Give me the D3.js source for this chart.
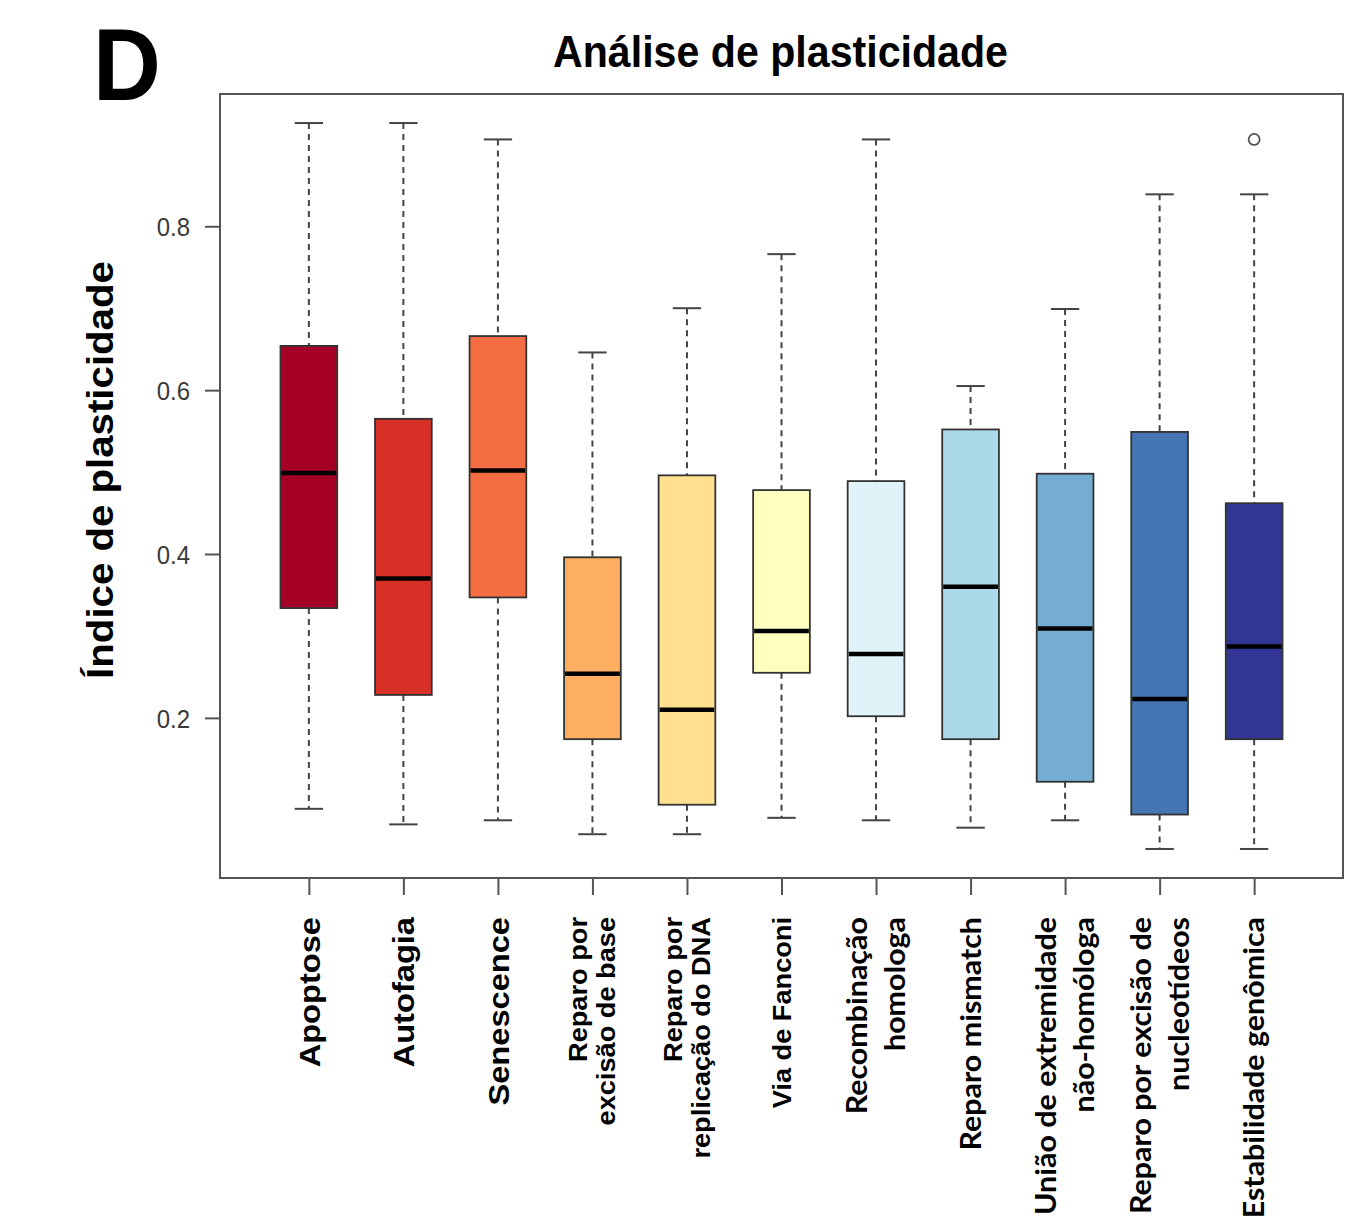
<!DOCTYPE html>
<html>
<head>
<meta charset="utf-8">
<script src="https://cdn.jsdelivr.net/npm/d3@7"></script>
<style>
  html, body { margin: 0; padding: 0; background: #fff; }
</style>
</head>
<body>
<svg id="chart" width="1353" height="1220"></svg>
<script>
// ---------------- DATA ----------------
const categories = [
  "Apoptose", "Autofagia", "Senescence",
  "Reparo por excisão de base", "Reparo por replicação do DNA", "Via de Fanconi",
  "Recombinação homologa", "Reparo mismatch", "União de extremidade não-homóloga",
  "Reparo por excisão de nucleotídeos", "Estabilidade genômica"
];
const labelLines = [
  ["Apoptose"], ["Autofagia"], ["Senescence"],
  ["Reparo por", "excisão de base"], ["Reparo por", "replicação do DNA"], ["Via de Fanconi"],
  ["Recombinação", "homologa"], ["Reparo mismatch"], ["União de extremidade", "não-homóloga"],
  ["Reparo por excisão de", "nucleotídeos"], ["Estabilidade genômica"]
];
const whiskerLow  = [0.089, 0.070, 0.075, 0.058, 0.058, 0.078, 0.075, 0.066, 0.075, 0.040, 0.040];
const q1          = [0.334, 0.228, 0.347, 0.174, 0.094, 0.255, 0.202, 0.174, 0.122, 0.082, 0.174];
const medians     = [0.499, 0.370, 0.502, 0.254, 0.210, 0.306, 0.278, 0.360, 0.309, 0.223, 0.287];
const q3          = [0.654, 0.565, 0.666, 0.396, 0.496, 0.478, 0.489, 0.552, 0.498, 0.549, 0.462];
const whiskerHigh = [0.926, 0.926, 0.906, 0.646, 0.700, 0.766, 0.906, 0.605, 0.699, 0.839, 0.839];
const outliers    = [[], [], [], [], [], [], [], [], [], [], [0.906]];
const colors = ["#A50026", "#D73027", "#F46D43", "#FDAE61", "#FEE090", "#FFFFBF",
                "#E0F3F8", "#ABD9E9", "#74ADD1", "#4575B4", "#313695"];
const yTicks = [0.2, 0.4, 0.6, 0.8];
const titleText = "Análise de plasticidade";
const yLabelText = "Índice de plasticidade";
const panelLetter = "D";

// ---------------- LAYOUT ----------------
const svg = d3.select("#chart");
const plot = { left: 220, right: 1343, top: 94, bottom: 878 };
const STRETCH = 1.087;
const n = categories.length;

// R-like 4% axis expansion
const dataMin = d3.min(whiskerLow), dataMax = d3.max(whiskerHigh.concat(outliers.flat()));
const yPad = (dataMax - dataMin) * 0.04;
const y = d3.scaleLinear().domain([dataMin - yPad, dataMax + yPad]).range([plot.bottom, plot.top]);
const xPad = n * 0.04;
const x = d3.scaleLinear().domain([0.5 - xPad, n + 0.5 + xPad]).range([plot.left, plot.right]);
const boxW = (x(1.6) - x(1));
const capW = boxW / 2;

const stats = categories.map((c, i) => ({
  name: c, i: i + 1, lo: whiskerLow[i], q1: q1[i], med: medians[i], q3: q3[i],
  hi: whiskerHigh[i], out: outliers[i], color: colors[i], lines: labelLines[i]
}));

// Frame
svg.append("rect")
  .attr("x", plot.left).attr("y", plot.top)
  .attr("width", plot.right - plot.left).attr("height", plot.bottom - plot.top)
  .attr("fill", "none").attr("stroke", "#555").attr("stroke-width", 2);

// Y axis
const yAxis = d3.axisLeft(y).tickValues(yTicks).tickSize(15).tickPadding(0).tickFormat(d3.format(".1f"));
const gy = svg.append("g").attr("transform", `translate(${plot.left},0)`).call(yAxis);
gy.select(".domain").remove();
gy.selectAll(".tick line").attr("stroke", "#555").attr("stroke-width", 2);
gy.selectAll(".tick text").remove();
gy.selectAll(".tick").append("text")
  .attr("transform", `translate(-30,0) scale(1,${STRETCH})`)
  .attr("text-anchor", "end").attr("dy", "0.36em")
  .attr("fill", "#3a3a3a")
  .style("font-family", "'Liberation Sans', Arial, sans-serif")
  .style("font-size", "24px")
  .text(d => d3.format(".1f")(d));

// X axis ticks
const xAxis = d3.axisBottom(x).tickValues(d3.range(1, n + 1)).tickSize(17).tickFormat("");
const gx = svg.append("g").attr("transform", `translate(0,${plot.bottom})`).call(xAxis);
gx.select(".domain").remove();
gx.selectAll(".tick line").attr("stroke", "#555").attr("stroke-width", 2);

// Boxes
const g = svg.append("g");
const bx = g.selectAll("g.box").data(stats).join("g").attr("class", "box");

// whiskers (dashed)
bx.append("line")
  .attr("x1", d => x(d.i)).attr("x2", d => x(d.i))
  .attr("y1", d => y(d.hi)).attr("y2", d => y(d.q3))
  .attr("stroke", "#444").attr("stroke-width", 2).attr("stroke-dasharray", "6,5");
bx.append("line")
  .attr("x1", d => x(d.i)).attr("x2", d => x(d.i))
  .attr("y1", d => y(d.q1)).attr("y2", d => y(d.lo))
  .attr("stroke", "#444").attr("stroke-width", 2).attr("stroke-dasharray", "6,5");
// caps
bx.append("line")
  .attr("x1", d => x(d.i) - capW / 2).attr("x2", d => x(d.i) + capW / 2)
  .attr("y1", d => y(d.hi)).attr("y2", d => y(d.hi))
  .attr("stroke", "#444").attr("stroke-width", 2);
bx.append("line")
  .attr("x1", d => x(d.i) - capW / 2).attr("x2", d => x(d.i) + capW / 2)
  .attr("y1", d => y(d.lo)).attr("y2", d => y(d.lo))
  .attr("stroke", "#444").attr("stroke-width", 2);
// box
bx.append("rect")
  .attr("x", d => x(d.i) - boxW / 2).attr("width", boxW)
  .attr("y", d => y(d.q3)).attr("height", d => y(d.q1) - y(d.q3))
  .attr("fill", d => d.color).attr("stroke", "#333").attr("stroke-width", 1.8);
// median
bx.append("line")
  .attr("x1", d => x(d.i) - boxW / 2 + 1).attr("x2", d => x(d.i) + boxW / 2 - 1)
  .attr("y1", d => y(d.med)).attr("y2", d => y(d.med))
  .attr("stroke", "#000").attr("stroke-width", 4.5);
// outliers
bx.selectAll("circle").data(d => d.out.map(v => ({ i: d.i, v }))).join("circle")
  .attr("cx", d => x(d.i)).attr("cy", d => y(d.v)).attr("r", 5.5)
  .attr("fill", "none").attr("stroke", "#555").attr("stroke-width", 1.8);

// X labels (rotated)
const labelTop = 917;
const arialFont = "'Liberation Sans', Arial, sans-serif";
const lato = "Lato, 'Open Sans', sans-serif";
function labelStyle(i) {
  if (i < 3) return { font: arialFont, size: 30, gap: 0 };
  if (i < 6) return { font: arialFont, size: 25, gap: 28 };
  return { font: lato, size: 28, gap: 38 };
}
const lab = svg.append("g");
stats.forEach((d, idx) => {
  const st = labelStyle(idx);
  const k = d.lines.length;
  d.lines.forEach((line, j) => {
    const off = (j - (k - 1) / 2) * st.gap;
    lab.append("text")
      .attr("transform", `translate(${x(d.i) + off},${labelTop}) rotate(-90) scale(${STRETCH},1)`)
      .attr("text-anchor", "end").attr("dy", "0.36em")
      .style("font-family", st.font).style("font-weight", "bold")
      .style("font-size", st.size + "px").attr("fill", "#000")
      .text(line);
  });
});

// Y label
svg.append("text")
  .attr("transform", `translate(100,${(255 + 685) / 2}) rotate(-90) scale(${STRETCH},1)`)
  .attr("text-anchor", "middle").attr("dy", "0.36em")
  .style("font-family", arialFont).style("font-weight", "bold").style("font-size", "37px")
  .text(yLabelText);

// Title
svg.append("text")
  .attr("transform", `translate(780.5,66.5) scale(1,${STRETCH})`)
  .attr("text-anchor", "middle")
  .attr("textLength", 455).attr("lengthAdjust", "spacingAndGlyphs")
  .style("font-family", arialFont).style("font-weight", "bold").style("font-size", "40px")
  .text(titleText);

// Panel letter
svg.append("text")
  .attr("transform", `translate(93,100) scale(1,${STRETCH})`)
  .style("font-family", arialFont).style("font-weight", "bold").style("font-size", "94px")
  .text(panelLetter);
</script>
</body>
</html>
